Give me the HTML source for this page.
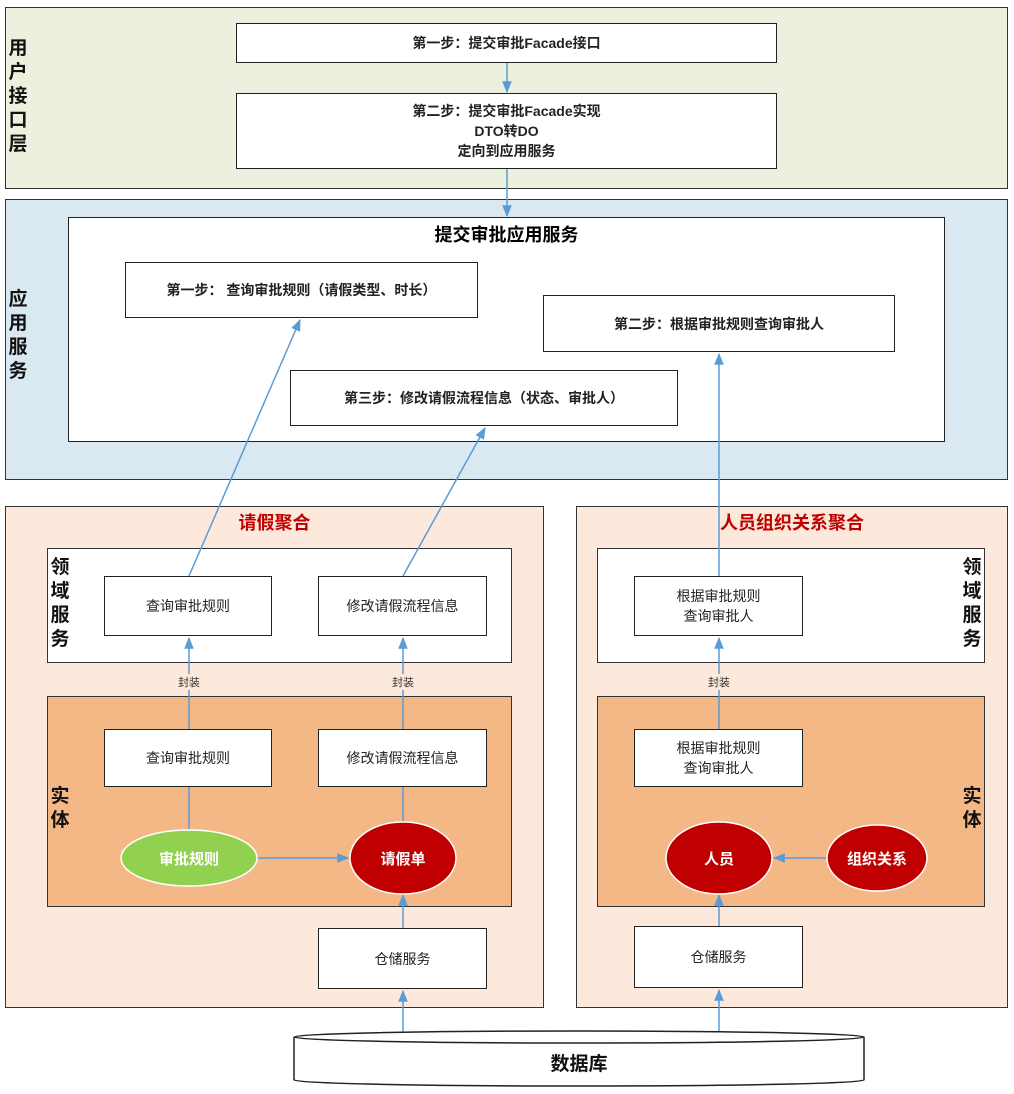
<!DOCTYPE html>
<html><head><meta charset="utf-8"><style>
body{margin:0;width:1014px;height:1094px;background:#fff;position:relative;overflow:hidden;font-family:"Liberation Sans","Noto Sans CJK SC",sans-serif;}
.a{position:absolute;box-sizing:border-box;}
.box{position:absolute;box-sizing:border-box;background:#fff;border:1.5px solid #222;display:flex;align-items:center;justify-content:center;text-align:center;font-size:14px;color:#222;line-height:20px;}
.b{font-weight:bold;}
.vl{position:absolute;font-weight:bold;font-size:19px;line-height:24px;width:22px;text-align:center;color:#111;}
</style></head><body>
<div class="a" style="left:5px;top:7px;width:1003px;height:182px;background:#ebf1de;border:1.5px solid #333"></div>
<div class="vl" style="left:7px;top:37px">用户接口层</div>
<div class="box b" style="left:236px;top:23px;width:541px;height:40px">第一步：提交审批Facade接口</div>
<div class="box b" style="left:236px;top:93px;width:541px;height:76px">第二步：提交审批Facade实现<br>DTO转DO<br>定向到应用服务</div>

<div class="a" style="left:5px;top:199px;width:1003px;height:281px;background:#dae8f1;border:1.5px solid #333"></div>
<div class="vl" style="left:7px;top:288px">应用服务</div>
<div class="a" style="left:68px;top:217px;width:877px;height:225px;background:#fff;border:1.5px solid #222"></div>
<div class="a b" style="left:68px;top:221px;width:877px;text-align:center;font-size:18px">提交审批应用服务</div>
<div class="box b" style="left:125px;top:262px;width:353px;height:56px">第一步： 查询审批规则（请假类型、时长）</div>
<div class="box b" style="left:543px;top:295px;width:352px;height:57px">第二步：根据审批规则查询审批人</div>
<div class="box b" style="left:290px;top:370px;width:388px;height:56px">第三步：修改请假流程信息（状态、审批人）</div>

<div class="a" style="left:5px;top:506px;width:539px;height:502px;background:#fce9dc;border:1.5px solid #333"></div>
<div class="a b" style="left:5px;top:509px;width:539px;text-align:center;font-size:18px;color:#c00000">请假聚合</div>
<div class="a" style="left:47px;top:548px;width:465px;height:115px;background:#fff;border:1.5px solid #333"></div>
<div class="vl" style="left:49px;top:556px">领域服务</div>
<div class="box" style="left:104px;top:576px;width:168px;height:60px">查询审批规则</div>
<div class="box" style="left:318px;top:576px;width:169px;height:60px">修改请假流程信息</div>
<div class="a" style="left:47px;top:696px;width:465px;height:211px;background:#f4b886;border:1.5px solid #333"></div>
<div class="vl" style="left:49px;top:785px">实体</div>
<div class="box" style="left:104px;top:729px;width:168px;height:58px">查询审批规则</div>
<div class="box" style="left:318px;top:729px;width:169px;height:58px">修改请假流程信息</div>
<div class="box" style="left:318px;top:928px;width:169px;height:61px">仓储服务</div>

<div class="a" style="left:576px;top:506px;width:432px;height:502px;background:#fce9dc;border:1.5px solid #333"></div>
<div class="a b" style="left:576px;top:509px;width:432px;text-align:center;font-size:18px;color:#c00000">人员组织关系聚合</div>
<div class="a" style="left:597px;top:548px;width:388px;height:115px;background:#fff;border:1.5px solid #333"></div>
<div class="vl" style="left:961px;top:556px">领域服务</div>
<div class="box" style="left:634px;top:576px;width:169px;height:60px">根据审批规则<br>查询审批人</div>
<div class="a" style="left:597px;top:696px;width:388px;height:211px;background:#f4b886;border:1.5px solid #333"></div>
<div class="vl" style="left:961px;top:785px">实体</div>
<div class="box" style="left:634px;top:729px;width:169px;height:58px">根据审批规则<br>查询审批人</div>
<div class="box" style="left:634px;top:926px;width:169px;height:62px">仓储服务</div>

<svg class="a" style="left:0;top:0" width="1014" height="1094">
<defs><marker id="m" viewBox="0 0 10 10" refX="9" refY="5" markerWidth="8" markerHeight="8" orient="auto"><path d="M0,1 L10,5 L0,9 z" fill="#5b9bd5"/></marker></defs>
<g stroke="#5b9bd5" stroke-width="1.5" fill="none">
<line x1="507" y1="63" x2="507" y2="92" marker-end="url(#m)"/>
<line x1="507" y1="169" x2="507" y2="216" marker-end="url(#m)"/>
<line x1="189" y1="576" x2="300" y2="320" marker-end="url(#m)"/>
<line x1="403" y1="576" x2="485" y2="428" marker-end="url(#m)"/>
<line x1="719" y1="576" x2="719" y2="354" marker-end="url(#m)"/>
<line x1="189" y1="729" x2="189" y2="690"/><line x1="189" y1="674" x2="189" y2="638" marker-end="url(#m)"/>
<line x1="403" y1="729" x2="403" y2="690"/><line x1="403" y1="674" x2="403" y2="638" marker-end="url(#m)"/>
<line x1="719" y1="729" x2="719" y2="690"/><line x1="719" y1="674" x2="719" y2="638" marker-end="url(#m)"/>
<line x1="189" y1="787" x2="189" y2="831"/>
<line x1="403" y1="787" x2="403" y2="823"/>
<line x1="257" y1="858" x2="348" y2="858" marker-end="url(#m)"/>
<line x1="827" y1="858" x2="774" y2="858" marker-end="url(#m)"/>
<line x1="403" y1="928" x2="403" y2="895" marker-end="url(#m)"/>
<line x1="719" y1="926" x2="719" y2="895" marker-end="url(#m)"/>
<line x1="403" y1="1032" x2="403" y2="991" marker-end="url(#m)"/>
<line x1="719" y1="1032" x2="719" y2="990" marker-end="url(#m)"/>
</g>
<g font-size="11" fill="#333" text-anchor="middle" font-family="Liberation Sans,Noto Sans CJK SC,sans-serif">
<text x="189" y="686">封装</text><text x="403" y="686">封装</text><text x="719" y="686">封装</text></g>
<ellipse cx="189" cy="858" rx="68" ry="28" fill="#92d050" stroke="#fff" stroke-width="1.5"/>
<ellipse cx="403" cy="858" rx="53" ry="36" fill="#c00000" stroke="#fff" stroke-width="1.5"/>
<ellipse cx="719" cy="858" rx="53" ry="36" fill="#c00000" stroke="#fff" stroke-width="1.5"/>
<ellipse cx="877" cy="858" rx="50" ry="33" fill="#c00000" stroke="#fff" stroke-width="1.5"/>
<g font-size="15" font-weight="bold" fill="#fff" text-anchor="middle" font-family="Liberation Sans,Noto Sans CJK SC,sans-serif">
<text x="189" y="864">审批规则</text><text x="403" y="864">请假单</text><text x="719" y="864">人员</text><text x="877" y="864">组织关系</text></g>
<path d="M294,1037 L294,1080 A285,6 0 0 0 864,1080 L864,1037" fill="#fff" stroke="#222" stroke-width="1.5"/>
<ellipse cx="579" cy="1037" rx="285" ry="6" fill="#fff" stroke="#222" stroke-width="1.5"/>
<text x="579" y="1070" font-size="19" font-weight="bold" text-anchor="middle" fill="#111" font-family="Liberation Sans,Noto Sans CJK SC,sans-serif">数据库</text>
</svg>
</body></html>
